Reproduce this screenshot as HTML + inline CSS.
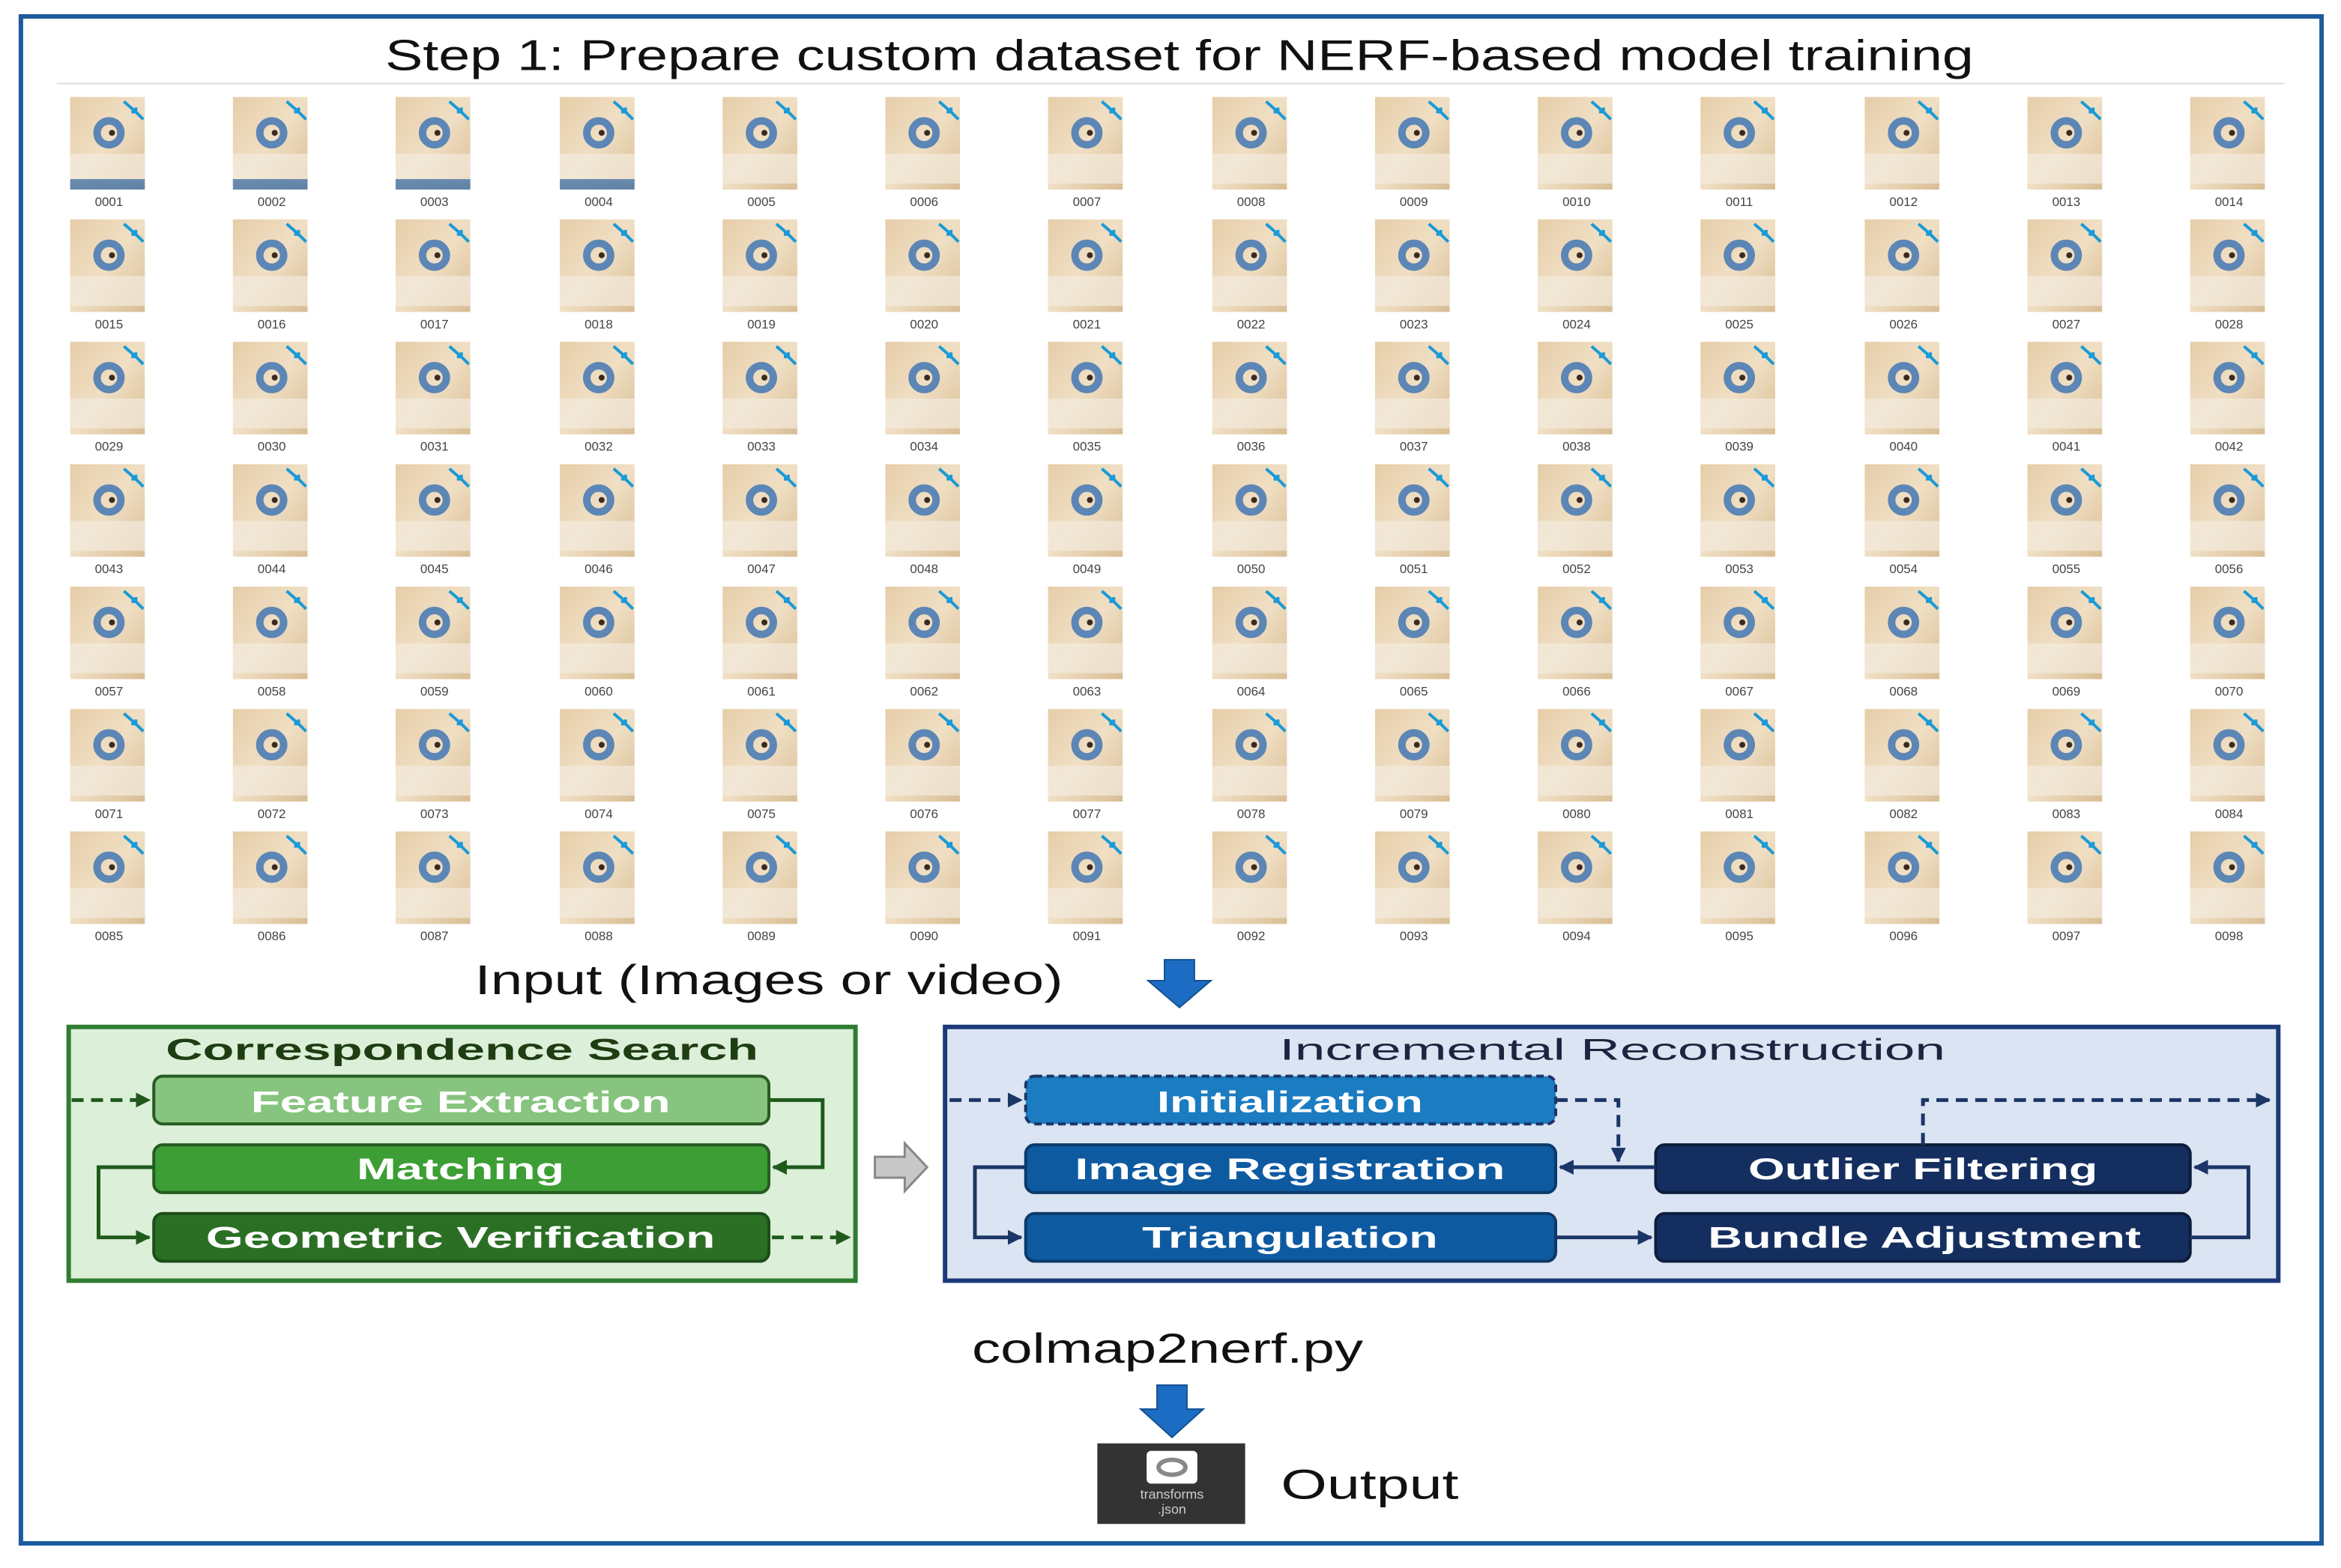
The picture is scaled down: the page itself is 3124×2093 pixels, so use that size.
<!DOCTYPE html>
<html><head><meta charset="utf-8"><style>
html,body{margin:0;padding:0;background:#fff;}
svg{display:block;}
</style></head><body>
<svg width="3124" height="2093" viewBox="0 0 1568 1050.5" preserveAspectRatio="none" xmlns="http://www.w3.org/2000/svg" font-family="Liberation Sans, sans-serif">
<defs>
<linearGradient id="wood" x1="0" y1="0" x2="1" y2="1">
<stop offset="0" stop-color="#e6cda8"/><stop offset="0.5" stop-color="#f0dfc4"/><stop offset="1" stop-color="#d8bd93"/>
</linearGradient>
<marker id="ag" viewBox="0 0 10 10" refX="9" refY="5" markerWidth="4" markerHeight="4" orient="auto"><path d="M0,0L10,5L0,10z" fill="#1f5a1c"/></marker>
<marker id="ab" viewBox="0 0 10 10" refX="9" refY="5" markerWidth="4" markerHeight="4" orient="auto"><path d="M0,0L10,5L0,10z" fill="#1b3566"/></marker>
<g id="t">
<rect x="0" y="0" width="50" height="62" fill="url(#wood)"/>
<rect x="0" y="38" width="50" height="20" fill="#f4ebde" opacity="0.7"/>
<circle cx="26" cy="24" r="8" fill="none" stroke="#5c86b5" stroke-width="5"/>
<circle cx="28" cy="24" r="2" fill="#3a2a20"/>
<path d="M36,3L44,10M41,10L44,10L44,7M49,15L44,10" stroke="#1a9ad8" stroke-width="2" fill="none"/>
</g>
<g id="row">
<use href="#t" x="47"/><use href="#t" x="156"/><use href="#t" x="265"/><use href="#t" x="375"/><use href="#t" x="484"/><use href="#t" x="593"/><use href="#t" x="702"/><use href="#t" x="812"/><use href="#t" x="921"/><use href="#t" x="1030"/><use href="#t" x="1139"/><use href="#t" x="1249"/><use href="#t" x="1358"/><use href="#t" x="1467"/>
</g>
</defs>
<rect x="0" y="0" width="1568" height="1051" fill="#fff"/>
<rect x="14" y="11" width="1541" height="1023" fill="none" stroke="#1d5a9e" stroke-width="3"/>
<text x="258" y="47" font-size="29" textLength="1064" lengthAdjust="spacingAndGlyphs" fill="#111">Step 1: Prepare custom dataset for NERF-based model training</text>
<line x1="38" y1="56" x2="1530" y2="56" stroke="#ddd" stroke-width="1"/>

<use href="#row" y="65"/><use href="#row" y="147"/><use href="#row" y="229"/><use href="#row" y="311"/><use href="#row" y="393"/><use href="#row" y="475"/><use href="#row" y="557"/>
<g font-size="8.5" fill="#444" text-anchor="middle">
<text x="73" y="138">0001</text><text x="182" y="138">0002</text><text x="291" y="138">0003</text><text x="401" y="138">0004</text><text x="510" y="138">0005</text><text x="619" y="138">0006</text><text x="728" y="138">0007</text><text x="838" y="138">0008</text><text x="947" y="138">0009</text><text x="1056" y="138">0010</text><text x="1165" y="138">0011</text><text x="1275" y="138">0012</text><text x="1384" y="138">0013</text><text x="1493" y="138">0014</text>
<text x="73" y="220">0015</text><text x="182" y="220">0016</text><text x="291" y="220">0017</text><text x="401" y="220">0018</text><text x="510" y="220">0019</text><text x="619" y="220">0020</text><text x="728" y="220">0021</text><text x="838" y="220">0022</text><text x="947" y="220">0023</text><text x="1056" y="220">0024</text><text x="1165" y="220">0025</text><text x="1275" y="220">0026</text><text x="1384" y="220">0027</text><text x="1493" y="220">0028</text>
<text x="73" y="302">0029</text><text x="182" y="302">0030</text><text x="291" y="302">0031</text><text x="401" y="302">0032</text><text x="510" y="302">0033</text><text x="619" y="302">0034</text><text x="728" y="302">0035</text><text x="838" y="302">0036</text><text x="947" y="302">0037</text><text x="1056" y="302">0038</text><text x="1165" y="302">0039</text><text x="1275" y="302">0040</text><text x="1384" y="302">0041</text><text x="1493" y="302">0042</text>
<text x="73" y="384">0043</text><text x="182" y="384">0044</text><text x="291" y="384">0045</text><text x="401" y="384">0046</text><text x="510" y="384">0047</text><text x="619" y="384">0048</text><text x="728" y="384">0049</text><text x="838" y="384">0050</text><text x="947" y="384">0051</text><text x="1056" y="384">0052</text><text x="1165" y="384">0053</text><text x="1275" y="384">0054</text><text x="1384" y="384">0055</text><text x="1493" y="384">0056</text>
<text x="73" y="466">0057</text><text x="182" y="466">0058</text><text x="291" y="466">0059</text><text x="401" y="466">0060</text><text x="510" y="466">0061</text><text x="619" y="466">0062</text><text x="728" y="466">0063</text><text x="838" y="466">0064</text><text x="947" y="466">0065</text><text x="1056" y="466">0066</text><text x="1165" y="466">0067</text><text x="1275" y="466">0068</text><text x="1384" y="466">0069</text><text x="1493" y="466">0070</text>
<text x="73" y="548">0071</text><text x="182" y="548">0072</text><text x="291" y="548">0073</text><text x="401" y="548">0074</text><text x="510" y="548">0075</text><text x="619" y="548">0076</text><text x="728" y="548">0077</text><text x="838" y="548">0078</text><text x="947" y="548">0079</text><text x="1056" y="548">0080</text><text x="1165" y="548">0081</text><text x="1275" y="548">0082</text><text x="1384" y="548">0083</text><text x="1493" y="548">0084</text>
<text x="73" y="630">0085</text><text x="182" y="630">0086</text><text x="291" y="630">0087</text><text x="401" y="630">0088</text><text x="510" y="630">0089</text><text x="619" y="630">0090</text><text x="728" y="630">0091</text><text x="838" y="630">0092</text><text x="947" y="630">0093</text><text x="1056" y="630">0094</text><text x="1165" y="630">0095</text><text x="1275" y="630">0096</text><text x="1384" y="630">0097</text><text x="1493" y="630">0098</text>
</g>
<g opacity="0.85">
<rect x="47" y="120" width="50" height="7" fill="#4f79a8"/><rect x="156" y="120" width="50" height="7" fill="#4f79a8"/><rect x="265" y="120" width="50" height="7" fill="#4f79a8"/><rect x="375" y="120" width="50" height="7" fill="#4f79a8"/>
</g>

<text x="318" y="666" font-size="28" textLength="394" lengthAdjust="spacingAndGlyphs" fill="#111">Input (Images or video)</text>
<path d="M780,643h20v14h11l-21,18l-21,-18h11z" fill="#1c6cc4" stroke="#14508f" stroke-width="1"/>

<!-- Correspondence search -->
<rect x="46" y="688" width="527" height="170" fill="#dcefd8" stroke="#2e7d32" stroke-width="3"/>
<text x="111" y="710" font-size="20" textLength="397" lengthAdjust="spacingAndGlyphs" fill="#1f3d12" font-weight="bold">Correspondence Search</text>
<rect x="103" y="721" width="412" height="32" rx="6" fill="#87c47f" stroke="#275b22" stroke-width="2"/>
<text x="168" y="745" font-size="20" font-weight="bold" textLength="281" lengthAdjust="spacingAndGlyphs" fill="#fff">Feature Extraction</text>
<rect x="103" y="767" width="412" height="32" rx="6" fill="#3c9e35" stroke="#275b22" stroke-width="2"/>
<text x="239" y="790" font-size="20" font-weight="bold" textLength="139" lengthAdjust="spacingAndGlyphs" fill="#fff">Matching</text>
<rect x="103" y="813" width="412" height="32" rx="6" fill="#2b6f25" stroke="#1d4d19" stroke-width="2"/>
<text x="138" y="836" font-size="20" font-weight="bold" textLength="341" lengthAdjust="spacingAndGlyphs" fill="#fff">Geometric Verification</text>
<path d="M48,737H100" stroke="#1f5a1c" stroke-width="2.5" stroke-dasharray="8,5" marker-end="url(#ag)"/>
<path d="M515,737H551V782H518" stroke="#1f5a1c" stroke-width="2.5" fill="none" marker-end="url(#ag)"/>
<path d="M103,782H66V829H100" stroke="#1f5a1c" stroke-width="2.5" fill="none" marker-end="url(#ag)"/>
<path d="M517,829H569" stroke="#1f5a1c" stroke-width="2.5" stroke-dasharray="8,5" marker-end="url(#ag)"/>

<path d="M586,775h20v-9l15,16l-15,16v-9h-20z" fill="#c8c8c8" stroke="#888" stroke-width="1.5"/>

<!-- Incremental Reconstruction -->
<rect x="633" y="688" width="893" height="170" fill="#dbe4f2" stroke="#1d3a78" stroke-width="3"/>
<text x="857" y="710" font-size="20" textLength="446" lengthAdjust="spacingAndGlyphs" fill="#1a2540">Incremental Reconstruction</text>
<rect x="687" y="721" width="355" height="32" rx="6" fill="#1b7cc1" stroke="#1b3566" stroke-width="2" stroke-dasharray="5,3"/>
<text x="775" y="745" font-size="20" font-weight="bold" textLength="178" lengthAdjust="spacingAndGlyphs" fill="#fff">Initialization</text>
<rect x="687" y="767" width="355" height="32" rx="6" fill="#0e5aa1" stroke="#0b3a6a" stroke-width="2"/>
<text x="720" y="790" font-size="20" font-weight="bold" textLength="288" lengthAdjust="spacingAndGlyphs" fill="#fff">Image Registration</text>
<rect x="687" y="813" width="355" height="32" rx="6" fill="#0e5aa1" stroke="#0b3a6a" stroke-width="2"/>
<text x="765" y="836" font-size="20" font-weight="bold" textLength="198" lengthAdjust="spacingAndGlyphs" fill="#fff">Triangulation</text>
<rect x="1109" y="767" width="358" height="32" rx="6" fill="#142f5f" stroke="#0d1d3d" stroke-width="2"/>
<text x="1171" y="790" font-size="20" font-weight="bold" textLength="234" lengthAdjust="spacingAndGlyphs" fill="#fff">Outlier Filtering</text>
<rect x="1109" y="813" width="358" height="32" rx="6" fill="#142f5f" stroke="#0d1d3d" stroke-width="2"/>
<text x="1144" y="836" font-size="20" font-weight="bold" textLength="290" lengthAdjust="spacingAndGlyphs" fill="#fff">Bundle Adjustment</text>
<path d="M636,737H684" stroke="#1b3566" stroke-width="2.5" stroke-dasharray="8,5" marker-end="url(#ab)"/>
<path d="M1042,737H1084V778" stroke="#1b3566" stroke-width="2.5" fill="none" stroke-dasharray="8,5" marker-end="url(#ab)"/>
<path d="M1109,782H1045" stroke="#1b3566" stroke-width="2.5" marker-end="url(#ab)"/>
<path d="M687,782H653V829H684" stroke="#1b3566" stroke-width="2.5" fill="none" marker-end="url(#ab)"/>
<path d="M1042,829H1106" stroke="#1b3566" stroke-width="2.5" marker-end="url(#ab)"/>
<path d="M1467,829H1506V782H1470" stroke="#1b3566" stroke-width="2.5" fill="none" marker-end="url(#ab)"/>
<path d="M1288,767V737H1520" stroke="#1b3566" stroke-width="2.5" fill="none" stroke-dasharray="8,5" marker-end="url(#ab)"/>

<text x="651" y="913" font-size="28" textLength="262" lengthAdjust="spacingAndGlyphs" fill="#111">colmap2nerf.py</text>
<path d="M775,928h20v16h11l-21,19l-21,-19h11z" fill="#1c6cc4" stroke="#14508f" stroke-width="1"/>
<rect x="735" y="967" width="99" height="54" fill="#333"/>
<rect x="768" y="972" width="34" height="22" rx="3" fill="#fff"/>
<ellipse cx="785" cy="983" rx="9" ry="5" fill="none" stroke="#888" stroke-width="3"/>
<text x="785" y="1004" font-size="9" text-anchor="middle" fill="#ccc">transforms</text>
<text x="785" y="1014" font-size="9" text-anchor="middle" fill="#ccc">.json</text>
<text x="858" y="1004" font-size="28" textLength="119" lengthAdjust="spacingAndGlyphs" fill="#111">Output</text>
</svg>
</body></html>
